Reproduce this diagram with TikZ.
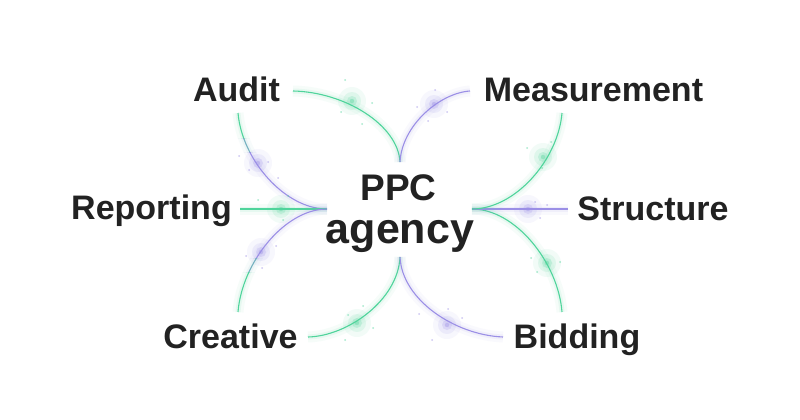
\documentclass[tikz,border=0pt]{standalone}
\usepackage{fontspec}
\setmainfont{Liberation Sans}
\definecolor{mint}{HTML}{4FD49B}
\definecolor{lav}{HTML}{9B8FE6}
\definecolor{ink}{HTML}{222222}
\colorlet{mixc}{mint!50!lav}
\tikzset{
  lbl/.style={font=\bfseries\fontsize{34}{34}\selectfont, text=ink, inner sep=0pt, anchor=base},
  ctr/.style={text=ink, inner sep=0pt, anchor=base},
  glowc/.style={preaction={draw=#1, line width=11pt, draw opacity=0.05},
                preaction={draw=#1, line width=5pt, draw opacity=0.09},
                draw=#1, line width=1.1pt},
  gline/.style={glowc=mint},
  pline/.style={glowc=lav},
  mline/.style={glowc=mixc},
}
\newcommand\glowspot[2]{%
  \fill[#1, opacity=0.07] (#2) circle (14pt);
  \fill[#1, opacity=0.12] (#2) circle (9pt);
  \fill[#1, opacity=0.20] (#2) circle (5pt);
  \fill[#1, opacity=0.35] (#2) circle (2.2pt);}
\newcommand\speck[2]{\fill[#1, opacity=0.5] (#2) circle (1pt);}
\begin{document}
\begin{tikzpicture}[x=1pt, y=-1pt]
\useasboundingbox (0,0) rectangle (800,420);
\fill[white] (0,0) rectangle (800,420);

% labels
\node[lbl] (audit) at (236.5,101) {Audit};
\node[lbl] (meas) at (593.5,101) {Measurement};
\node[lbl] (rep) at (151.5,219) {Reporting};
\node[lbl] (struct) at (653,220) {Structure};
\node[lbl] (crea) at (230.5,348) {Creative};
\node[lbl] (bid) at (577,348) {Bidding};
\node[ctr, font=\bfseries\fontsize{37}{37}\selectfont] (ppc) at (398.5,200) {PPC};
\node[ctr, font=\bfseries\fontsize{43}{43}\selectfont] (agency) at (400,243) {agency};

% tips and ends
\coordinate (tipT) at (400,162);
\coordinate (tipB) at (400,257);
\coordinate (tipL) at (327,209);
\coordinate (tipR) at (472,209);
\coordinate (a1) at (293,91);
\coordinate (m1) at (470,91);
\coordinate (a2) at (238,113);
\coordinate (r1) at (240,209);
\coordinate (c2) at (238,312);
\coordinate (c1) at (308,337);
\coordinate (b1) at (503,337);
\coordinate (b2) at (562,312);
\coordinate (s1) at (568,209);
\coordinate (m2) at (562,113);

% glow spots
\glowspot{mint}{352,101}
\glowspot{lav}{434,104}
\glowspot{lav}{258,163}
\glowspot{mint}{281,209}
\glowspot{lav}{261,252}
\glowspot{mint}{357,323}
\glowspot{lav}{447,325}
\glowspot{mint}{547,263}
\glowspot{lav}{528,209}
\glowspot{mint}{543,157}

% connectors
\draw[gline] (a1) .. controls (345,92) and (398,125) .. (tipT);
\draw[pline] (m1) .. controls (440,93) and (402,125) .. (tipT);
\begin{scope}\clip (0,0) rectangle (800,138);
\draw[gline] (a2) .. controls (242,160) and (285,209) .. (tipL);\end{scope}
\begin{scope}\clip (0,138) rectangle (800,152);
\draw[mline] (a2) .. controls (242,160) and (285,209) .. (tipL);\end{scope}
\begin{scope}\clip (0,152) rectangle (800,420);
\draw[pline] (a2) .. controls (242,160) and (285,209) .. (tipL);\end{scope}
\draw[gline] (r1) -- (tipL);
\begin{scope}\clip (0,0) rectangle (800,258);
\draw[pline] (c2) .. controls (242,262) and (285,209) .. (tipL);\end{scope}
\begin{scope}\clip (0,258) rectangle (800,272);
\draw[mline] (c2) .. controls (242,262) and (285,209) .. (tipL);\end{scope}
\begin{scope}\clip (0,272) rectangle (800,420);
\draw[gline] (c2) .. controls (242,262) and (285,209) .. (tipL);\end{scope}
\draw[gline] (c1) .. controls (348,336) and (398,300) .. (tipB);
\draw[pline] (b1) .. controls (455,335) and (402,300) .. (tipB);
\draw[gline] (b2) .. controls (558,262) and (515,209) .. (tipR);
\draw[pline] (s1) -- (tipR);
\draw[gline] (m2) .. controls (558,160) and (515,209) .. (tipR);

% specks
\speck{mint}{345,80} \speck{mint}{341,112} \speck{mint}{362,124} \speck{mint}{372,103}
\speck{lav}{417,107} \speck{lav}{435,90} \speck{lav}{447,112} \speck{lav}{428,121}
\speck{lav}{239,156} \speck{lav}{268,162} \speck{lav}{249,170} \speck{lav}{278,178}
\speck{mint}{258,200} \speck{mint}{288,196} \speck{mint}{283,220}
\speck{lav}{246,256} \speck{lav}{276,246} \speck{lav}{262,268}
\speck{mint}{348,315} \speck{mint}{363,306} \speck{mint}{373,328} \speck{mint}{345,340}
\speck{lav}{419,314} \speck{lav}{448,309} \speck{lav}{462,318} \speck{lav}{432,340}
\speck{mint}{531,258} \speck{mint}{537,272} \speck{mint}{560,262}
\speck{lav}{535,202} \speck{lav}{547,205} \speck{lav}{540,218}
\speck{mint}{527,148} \speck{mint}{542,168} \speck{mint}{551,142}
\end{tikzpicture}
\end{document}
